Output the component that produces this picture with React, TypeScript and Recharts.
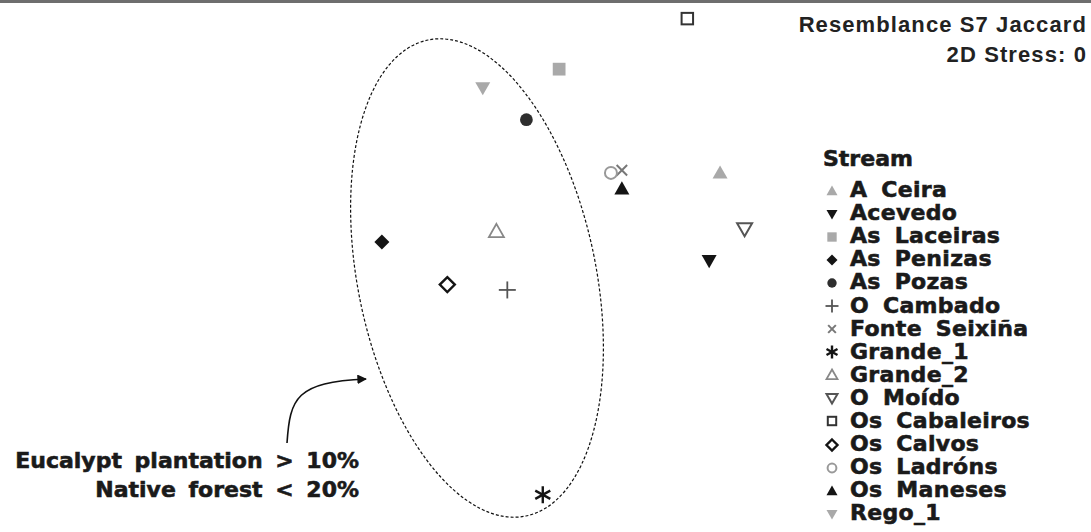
import { ScatterChart, Scatter, XAxis, YAxis, Customized } from "recharts";

// NMDS coordinates (arbitrary units) per stream
const streams = [
  "A Ceira", "Acevedo", "As Laceiras", "As Penizas", "As Pozas", "O Cambado", "Fonte Seixiña",
  "Grande_1", "Grande_2", "O Moído", "Os Cabaleiros", "Os Calvos", "Os Ladróns", "Os Maneses", "Rego_1",
];
const mdsX = [0.64, 0.60, 0.05, -0.60, -0.07, -0.14, 0.28, -0.01, -0.18, 0.73, 0.52, -0.36, 0.24, 0.28, -0.23];
const mdsY = [0.35, 0.02, 0.74, 0.09, 0.55, -0.09, 0.36, -0.86, 0.13, 0.14, 0.93, -0.07, 0.35, 0.29, 0.67];
const markers = [
  "triUpGray", "triDownBlack", "squareGray", "diamondBlack", "circleDark", "plus", "cross",
  "asterisk", "triUpOpen", "triDownOpen", "squareOpen", "diamondOpen", "circleOpen", "triUpBlack", "triDownGray",
];

const GRAY = "#a9a9a9";
const BLACK = "#141414";
const heavy = "'DejaVu Sans', sans-serif";

const Marker = ({ kind, cx, cy, s = 7.5 }: { kind: string; cx: number; cy: number; s?: number }) => {
  const up = `${cx},${cy - s} ${cx + s},${cy + s * 0.75} ${cx - s},${cy + s * 0.75}`;
  const down = `${cx - s},${cy - s * 0.75} ${cx + s},${cy - s * 0.75} ${cx},${cy + s}`;
  const dia = `${cx},${cy - s} ${cx + s},${cy} ${cx},${cy + s} ${cx - s},${cy}`;
  const q = s * 0.85;
  switch (kind) {
    case "triUpGray": return <polygon points={up} fill={GRAY} />;
    case "triUpBlack": return <polygon points={up} fill={BLACK} />;
    case "triDownBlack": return <polygon points={down} fill={BLACK} />;
    case "triDownGray": return <polygon points={down} fill={GRAY} />;
    case "squareGray": return <rect x={cx - q} y={cy - q} width={2 * q} height={2 * q} fill={GRAY} />;
    case "diamondBlack": return <polygon points={dia} fill={BLACK} />;
    case "circleDark": return <circle cx={cx} cy={cy} r={s * 0.85} fill="#2e2e2e" />;
    case "plus":
      return (
        <g stroke="#555" strokeWidth={1.8}>
          <line x1={cx - s - 1} y1={cy} x2={cx + s + 1} y2={cy} />
          <line x1={cx} y1={cy - s - 1} x2={cx} y2={cy + s + 1} />
        </g>
      );
    case "cross":
      return (
        <g stroke="#777" strokeWidth={2}>
          <line x1={cx - s * 0.7} y1={cy - s * 0.7} x2={cx + s * 0.7} y2={cy + s * 0.7} />
          <line x1={cx - s * 0.7} y1={cy + s * 0.7} x2={cx + s * 0.7} y2={cy - s * 0.7} />
        </g>
      );
    case "asterisk":
      return (
        <g stroke={BLACK} strokeWidth={2.4}>
          <line x1={cx} y1={cy - s - 1} x2={cx} y2={cy + s + 1} />
          <line x1={cx - s} y1={cy - s * 0.55} x2={cx + s} y2={cy + s * 0.55} />
          <line x1={cx - s} y1={cy + s * 0.55} x2={cx + s} y2={cy - s * 0.55} />
        </g>
      );
    case "triUpOpen": return <polygon points={up} fill="none" stroke="#888" strokeWidth={1.8} />;
    case "triDownOpen": return <polygon points={down} fill="none" stroke="#555" strokeWidth={2} />;
    case "squareOpen":
      return <rect x={cx - q * 0.9} y={cy - q * 0.9} width={1.8 * q} height={1.8 * q} fill="none" stroke="#333" strokeWidth={2} />;
    case "diamondOpen": return <polygon points={dia} fill="none" stroke={BLACK} strokeWidth={2.4} />;
    case "circleOpen": return <circle cx={cx} cy={cy} r={s * 0.8} fill="none" stroke="#999" strokeWidth={2} />;
    default: return null;
  }
};

const thick = { WebkitTextStroke: "0.6px #1a1a1a" } as any;

const StreamLegend = () => (
  <div style={{ position: "absolute", left: 822, top: 143, fontFamily: heavy, fontWeight: 700, color: "#1a1a1a", ...thick }}>
    <div style={{ fontSize: 22, lineHeight: "26px", marginLeft: 1, marginBottom: 6 }}>Stream</div>
    {streams.map((name, i) => (
      <div key={name} style={{ display: "flex", alignItems: "center", height: 23.1, fontSize: 22, lineHeight: "23px", wordSpacing: 6, letterSpacing: 0.3, whiteSpace: "nowrap" }}>
        <svg width={28} height={20} style={{ flex: "none" }}>
          <Marker kind={markers[i]} cx={10} cy={11} s={5.5} />
        </svg>
        <span>{name}</span>
      </div>
    ))}
  </div>
);

const Annotations = () => (
  <g>
    <defs>
      <marker id="arr" viewBox="0 0 10 10" refX="9" refY="5" markerWidth="6" markerHeight="6" orient="auto">
        <path d="M0,0 L10,5 L0,10 z" fill="#111" />
      </marker>
    </defs>
    <ellipse cx={477} cy={275} rx={119} ry={243} transform="rotate(-11.6 477 275)"
      fill="none" stroke="#111" strokeWidth={1.2} strokeDasharray="3 2" />
    <path d="M287,440 C290,395 296,379 366,376" fill="none" stroke="#111" strokeWidth={1.6} markerEnd="url(#arr)" />
    <g fontFamily={heavy} fontWeight={700} fontSize={22} fill="#1a1a1a" stroke="#1a1a1a" strokeWidth={0.6} textAnchor="end" wordSpacing={5}>
      <text x={359} y={465}>Eucalypt plantation &gt; 10%</text>
      <text x={359} y={494}>Native forest &lt; 20%</text>
    </g>
    <g fontFamily="'Liberation Sans', Arial, sans-serif" fontWeight={700} fontSize={22} fill="#222" textAnchor="end" letterSpacing={1.1}>
      <text x={1087} y={29}>Resemblance S7 Jaccard</text>
      <text x={1087} y={59}>2D Stress: 0</text>
    </g>
  </g>
);

export default function App() {
  return (
    <div style={{ position: "absolute", left: 0, top: 0, width: 1091, height: 532, background: "#fff", borderTop: "3px solid #6e6e6e", boxSizing: "border-box", overflow: "hidden" }}>
      <ScatterChart width={1091} height={529} margin={{ top: -3, right: 0, bottom: 0, left: 0 }}>
        <XAxis type="number" dataKey="x" domain={[-2, 2]} hide />
        <YAxis type="number" dataKey="y" domain={[-1, 1]} hide />
        {streams.map((name, i) => (
          <Scatter
            key={name}
            name={name}
            data={[{ x: mdsX[i], y: mdsY[i] }]}
            isAnimationActive={false}
            shape={(p: any) => <Marker kind={markers[i]} cx={p.cx} cy={p.cy} />}
          />
        ))}
        <Customized component={<Annotations />} />
      </ScatterChart>
      <StreamLegend />
    </div>
  );
}
